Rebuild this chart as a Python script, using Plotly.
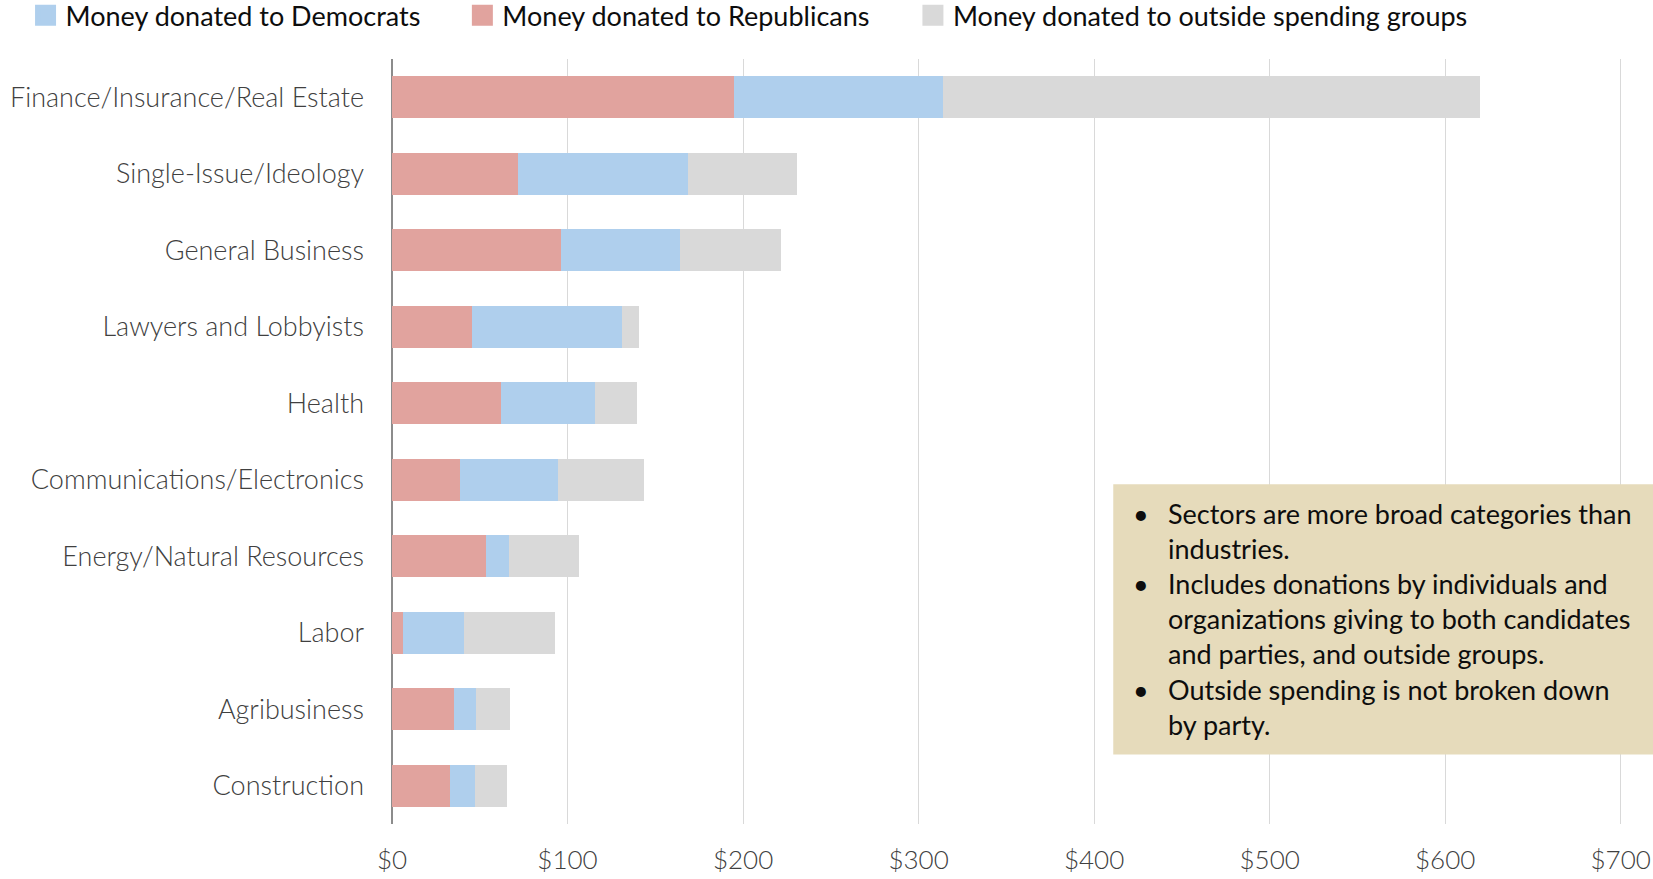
import plotly.graph_objects as go

sectors = [
    "Finance/Insurance/Real Estate",
    "Single-Issue/Ideology",
    "General Business",
    "Lawyers and Lobbyists",
    "Health",
    "Communications/Electronics",
    "Energy/Natural Resources",
    "Labor",
    "Agribusiness",
    "Construction",
]
republicans = [195, 72, 96, 45.7, 62.3, 38.5, 53.5, 6.3, 35.5, 33.3]
democrats = [118.8, 96.4, 68.3, 85.2, 53.4, 56.0, 13.1, 35.0, 12.4, 13.7]
outside = [306.2, 62.1, 57.5, 9.6, 23.9, 48.8, 40.1, 51.7, 19.6, 18.3]

x_ticks = [0, 100, 200, 300, 400, 500, 600, 700]
x_tick_text = ["$0", "$100", "$200", "$300", "$400", "$500", "$600", "$700"]

notes_bullets = "•<br><br>•<br><br><br>•"
notes_text = (
    "Sectors are more broad categories than<br>industries.<br>"
    "Includes donations by individuals and<br>"
    "organizations giving to both candidates<br>"
    "and parties, and outside groups.<br>"
    "Outside spending is not broken down<br>by party."
)

RED = "#E1A39E"
BLUE = "#AFCFED"
GRAY = "#D9D9D9"
FONT = "Lato"

fig = go.Figure()

# ----------------------
# STACKED BARS (rep, dem, outside from left to right)
# ----------------------
for name, vals, col in [
    ("Money donated to Republicans", republicans, RED),
    ("Money donated to Democrats", democrats, BLUE),
    ("Money donated to outside spending groups", outside, GRAY),
]:
    fig.add_trace(go.Bar(
        y=sectors, x=vals, orientation="h", name=name,
        marker=dict(color=col, line=dict(width=0)),
        showlegend=False, hoverinfo="x+y"
    ))

# ----------------------
# LEGEND (one legend per entry so the spacing can follow the original)
# ----------------------
legend_items = [
    ("Money donated to Democrats", BLUE, "legend", -0.2906),
    ("Money donated to Republicans", RED, "legend2", 0.0558),
    ("Money donated to outside spending groups", GRAY, "legend3", 0.4131),
]
legend_style = dict(
    orientation="h", xref="paper", yref="paper",
    y=1.0885, xanchor="left", yanchor="top",
    font=dict(family=FONT, size=27, color="#0d0d0d"),
    itemwidth=30, bgcolor="rgba(0,0,0,0)"
)
legends = {}
for name, col, leg, lx in legend_items:
    # marker outline in the same colour makes the legend square bigger
    fig.add_trace(go.Scatter(
        x=[None], y=[None], mode="markers", name=name, legend=leg,
        marker=dict(symbol="square", size=22, color=col,
                    line=dict(width=5, color=col))
    ))
    legends[leg] = dict(legend_style, x=lx)

# notes box
fig.add_shape(type="rect", xref="x", yref="paper",
              x0=410.9, x1=718.4, y0=0.091, y1=0.4441,
              fillcolor="#E6DBBB", line=dict(width=0), layer="above")
fig.add_annotation(xref="x", yref="paper", x=421, y=0.43,
                   xanchor="left", yanchor="top", align="left",
                   text=notes_bullets, showarrow=False,
                   font=dict(family=FONT, size=27, color="#0d0d0d"))
fig.add_annotation(xref="x", yref="paper", x=441, y=0.43,
                   xanchor="left", yanchor="top", align="left",
                   text=notes_text, showarrow=False,
                   font=dict(family=FONT, size=27, color="#0d0d0d"))

fig.update_layout(
    width=1653, height=879,
    barmode="stack", bargap=0.45,
    plot_bgcolor="white", paper_bgcolor="white",
    margin=dict(l=392, r=0, t=59, b=55, autoexpand=False),
    font=dict(family=FONT, size=26, color="#404040"),
    xaxis=dict(
        range=[0, 718.4], tickvals=x_ticks, ticktext=x_tick_text,
        showgrid=True, gridcolor="#D9D9D9", gridwidth=1,
        zeroline=True, zerolinecolor="#8C8C8C", zerolinewidth=1.5,
        ticklabelstandoff=18,
        tickfont=dict(family=FONT, size=26, color="#404040", weight=300),
        fixedrange=True
    ),
    yaxis=dict(
        autorange="reversed", showgrid=False, zeroline=False,
        ticklabelstandoff=27,
        tickfont=dict(family=FONT, size=27, color="#404040", weight=300)
    ),
    **legends
)

# the page body has an 8px default margin; drop it so the figure fills the window
fig.write_html("out.html", config={"displayModeBar": False},
               post_script="document.body.style.margin='0';")
